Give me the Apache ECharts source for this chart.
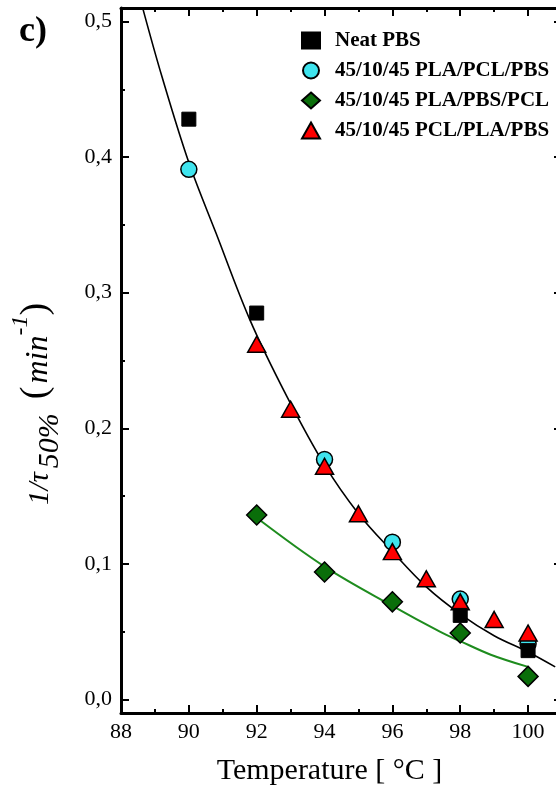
<!DOCTYPE html>
<html>
<head>
<meta charset="utf-8">
<script src="https://cdn.jsdelivr.net/npm/echarts@6/dist/echarts.min.js"></script>
<style>
  html, body { margin: 0; padding: 0; background: #fff; }
  #chart { width: 556px; height: 790px; }
</style>
</head>
<body>
<div id="chart"></div>
<script>
// data (temperature in °C, 1/tau50% in min^-1)
const neatX = [90, 92, 98, 100]
const neatY = [0.428, 0.285, 0.062, 0.036]
const plaPclPbsX = [90, 94, 96, 98, 100]
const plaPclPbsY = [0.391, 0.177, 0.116, 0.074, 0.041]
const plaPbsPclX = [92, 94, 96, 98, 100]
const plaPbsPclY = [0.136, 0.094, 0.072, 0.049, 0.017]
const pclPlaPbsX = [92, 93, 94, 95, 96, 97, 98, 99, 100]
const pclPlaPbsY = [0.262, 0.214, 0.172, 0.137, 0.109, 0.089, 0.072, 0.059, 0.049]
// fitted curves
const fitBlackX = [88.65, 89.2, 90, 90.8, 91.8, 92.9, 94, 95, 96, 97, 98, 99, 100, 100.8]
const fitBlackY = [0.509, 0.460, 0.396, 0.344, 0.280, 0.223, 0.173, 0.137, 0.109, 0.083, 0.063, 0.047, 0.035, 0.024]
const fitGreenX = [92, 94, 96, 97.4, 98, 98.9, 100]
const fitGreenY = [0.134, 0.098, 0.069, 0.050, 0.043, 0.033, 0.024]
const legendNames = ['Neat PBS', '45/10/45 PLA/PCL/PBS', '45/10/45 PLA/PBS/PCL', '45/10/45 PCL/PLA/PBS']

const serif = "'Liberation Serif', 'DejaVu Serif', serif"
const pairs = (xs, ys) => xs.map((x, i) => [x, ys[i]])
const comma = v => v.toFixed(1).replace('.', ',')

const frameAxisX = (position, labels) => ({
  type: 'value',
  position: position,
  min: 88,
  max: 101,
  interval: 2,
  axisLine: { show: true, onZero: false, lineStyle: { color: '#000', width: 3 } },
  axisTick: { show: true, inside: true, length: 8, lineStyle: { color: '#000', width: 2 } },
  minorTick: { show: true, splitNumber: 2, length: 4, lineStyle: { color: '#000', width: 2 } },
  splitLine: { show: false },
  axisLabel: {
    show: labels,
    showMaxLabel: false,
    margin: 8,
    color: '#000',
    fontFamily: serif,
    fontSize: 22
  }
})

const frameAxisY = (position, labels) => ({
  type: 'value',
  position: position,
  min: -0.01,
  max: 0.51,
  splitNumber: 5,
  axisLine: { show: true, onZero: false, lineStyle: { color: '#000', width: 3 } },
  axisTick: { show: true, inside: true, length: 8, lineStyle: { color: '#000', width: 2 } },
  minorTick: { show: true, splitNumber: 2, length: 4, lineStyle: { color: '#000', width: 2 } },
  splitLine: { show: false },
  axisLabel: {
    show: labels,
    showMinLabel: false,
    showMaxLabel: false,
    margin: 9,
    color: '#000',
    fontFamily: serif,
    fontSize: 22,
    formatter: comma
  }
})

const chart = echarts.init(document.getElementById('chart'))
const option = {
  animation: false,
  backgroundColor: '#fff',
  // the right edge of the frame is cut off in the source figure
  grid: { left: 121, width: 441, top: 8, bottom: 77, outerBoundsMode: 'none' },
  xAxis: [
    Object.assign(frameAxisX('bottom', true), {
      name: 'Temperature [ °C ]',
      nameLocation: 'middle',
      nameGap: 43,
      nameTextStyle: { color: '#000', fontFamily: serif, fontSize: 30, padding: [0, 24, 0, 0] }
    }),
    frameAxisX('top', false)
  ],
  yAxis: [frameAxisY('left', true), frameAxisY('right', false)],
  legend: {
    data: legendNames,
    orient: 'vertical',
    left: 296,
    top: 25,
    itemWidth: 18,
    itemHeight: 16,
    itemGap: 9,
    textStyle: {
      color: '#000',
      fontFamily: serif,
      fontWeight: 'bold',
      fontSize: 21,
      lineHeight: 21,
      padding: [0, 0, 0, 10]
    }
  },
  graphic: [
    {
      type: 'text',
      left: 19,
      top: 14,
      style: { text: 'c)', fontFamily: serif, fontWeight: 'bold', fontSize: 36, fill: '#000' }
    },
    {
      // y axis title; each piece sits at half its box height from the line top
      type: 'text',
      x: 50,
      y: 404,
      rotation: Math.PI / 2,
      style: {
        text: '{a|1/τ}{s|50%}{p|(}{m|min}{u|-1}{p|)}',
        align: 'center',
        verticalAlign: 'middle',
        rich: {
          a: { fontFamily: serif, fontStyle: 'italic', fontSize: 29, height: 59, verticalAlign: 'top', fill: '#000' },
          s: { fontFamily: serif, fontStyle: 'italic', fontSize: 30, height: 79, verticalAlign: 'top', padding: [0, 14, 0, 4], fill: '#000' },
          m: { fontFamily: serif, fontStyle: 'italic', fontSize: 32, height: 56, verticalAlign: 'top', padding: [0, 0, 0, 3], fill: '#000' },
          u: { fontFamily: serif, fontStyle: 'italic', fontSize: 24, height: 21, verticalAlign: 'top', fill: '#000' },
          p: { fontFamily: serif, fontSize: 38, height: 52, verticalAlign: 'top', fill: '#000' }
        }
      }
    }
  ],
  series: [
    {
      name: 'fit black',
      type: 'line',
      smooth: 0.35,
      symbol: 'none',
      z: 1,
      lineStyle: { color: '#000', width: 1.6 },
      data: pairs(fitBlackX, fitBlackY)
    },
    {
      name: 'fit green',
      type: 'line',
      smooth: 0.35,
      symbol: 'none',
      z: 1,
      lineStyle: { color: '#1e8c1e', width: 2 },
      data: pairs(fitGreenX, fitGreenY)
    },
    {
      name: legendNames[1],
      type: 'scatter',
      symbol: 'circle',
      symbolSize: 16,
      z: 3,
      itemStyle: { color: '#3fe4ee', borderColor: '#000', borderWidth: 1.5, opacity: 1 },
      data: pairs(plaPclPbsX, plaPclPbsY)
    },
    {
      name: legendNames[2],
      type: 'scatter',
      symbol: 'diamond',
      symbolSize: [20, 20],
      z: 3,
      itemStyle: { color: '#0a6e0a', borderColor: '#000', borderWidth: 1.5, opacity: 1 },
      data: pairs(plaPbsPclX, plaPbsPclY)
    },
    {
      name: legendNames[3],
      type: 'scatter',
      symbol: 'triangle',
      symbolSize: [18, 16],
      z: 4,
      itemStyle: { color: '#ff0000', borderColor: '#000', borderWidth: 1.5, opacity: 1 },
      data: pairs(pclPlaPbsX, pclPlaPbsY)
    },
    {
      name: legendNames[0],
      type: 'scatter',
      symbol: 'rect',
      symbolSize: 14,
      z: 5,
      itemStyle: { color: '#000', borderColor: '#000', borderWidth: 1, opacity: 1 },
      data: pairs(neatX, neatY)
    }
  ]
}
chart.setOption(option)
</script>
</body>
</html>
